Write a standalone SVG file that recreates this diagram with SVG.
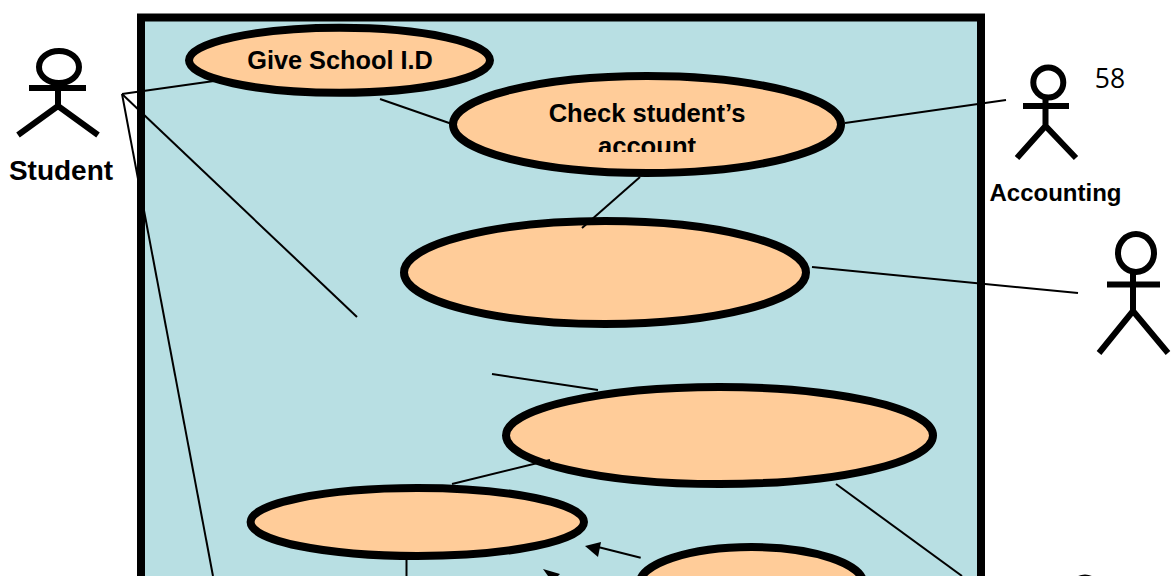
<svg xmlns="http://www.w3.org/2000/svg" width="1171" height="576" viewBox="0 0 1171 576">
<style>
.uc{fill:#ffcc99;stroke:#000;stroke-width:8}
.ln{fill:none;stroke:#000;stroke-width:2}
.act{fill:none;stroke:#000;stroke-width:6}
.lb{font-family:"Liberation Sans",Arial,sans-serif;font-weight:700;fill:#000;text-anchor:middle}
</style>
<defs>
<clipPath id="clipAccount"><rect x="450" y="90" width="400" height="62"/></clipPath>
</defs>
<rect id="boundary" x="141" y="17.5" width="840" height="570" fill="#b8dfe3" stroke="#000" stroke-width="8"/>
<g id="uc-give"><ellipse class="uc" cx="339.5" cy="60.3" rx="150.5" ry="32.5"/><text class="lb" x="340" y="69" font-size="25.3">Give School I.D</text></g>
<g id="uc-check"><ellipse class="uc" cx="647" cy="124.5" rx="194" ry="48.5"/><text class="lb" x="647" y="122" font-size="25.6">Check student’s</text><text class="lb" x="647" y="155" font-size="25.6" clip-path="url(#clipAccount)">account</text></g>
<g id="uc-3"><ellipse class="uc" cx="605" cy="272.5" rx="201" ry="51.5"/></g>
<g id="uc-4"><ellipse class="uc" cx="719.5" cy="435.5" rx="213.5" ry="48.5"/></g>
<g id="uc-5"><ellipse class="uc" cx="417.3" cy="522" rx="166.7" ry="34"/></g>
<g id="uc-6"><ellipse class="uc" cx="751.5" cy="584" rx="112" ry="37"/></g>
<g id="connectors">
<path class="ln" d="M122 94L214 81"/>
<path class="ln" d="M122 94L357 317"/>
<path class="ln" d="M122 94L213 576"/>
<path class="ln" d="M380 99L452 124"/>
<path class="ln" d="M845 123L1006 100"/>
<path class="ln" d="M640 177L582 228"/>
<path class="ln" d="M812 267L1078 293"/>
<path class="ln" d="M492 374L598 390"/>
<path class="ln" d="M452 484L550 460"/>
<path class="ln" d="M836 484L962 576"/>
<path class="ln" d="M406.5 558V576"/>
<path class="ln" d="M640.7 557.7L598 547"/>
<path d="M585 546L601 542L598 557Z" fill="#000"/>
<path d="M543 569L560 574L558 576H548Z" fill="#000"/>
</g>
<g id="actor-student">
<ellipse class="act" cx="59" cy="67" rx="20" ry="16"/>
<path class="act" d="M29 88H86M58 84V106M18 135L58 106L98 135"/>
<text class="lb" x="61" y="180" font-size="28">Student</text>
</g>
<g id="actor-accounting">
<circle class="act" cx="1048.3" cy="82.5" r="15"/>
<path class="act" d="M1023 106H1069M1045.5 98V126M1017 158L1045.5 126L1076 158"/>
<text class="lb" x="1055.5" y="201" font-size="24">Accounting</text>
</g>
<g id="actor-3">
<ellipse class="act" cx="1136" cy="253" rx="18" ry="19"/>
<path class="act" d="M1107 284.5H1160M1133 272V311M1099 353L1133 311L1168 353"/>
</g>
<g id="actor-4"><circle class="act" cx="1085" cy="590.5" r="13"/></g>
<text x="1110" y="87.5" font-family="'Open Sans','Noto Sans',sans-serif" font-size="26.5" fill="#000" text-anchor="middle">58</text>
</svg>
